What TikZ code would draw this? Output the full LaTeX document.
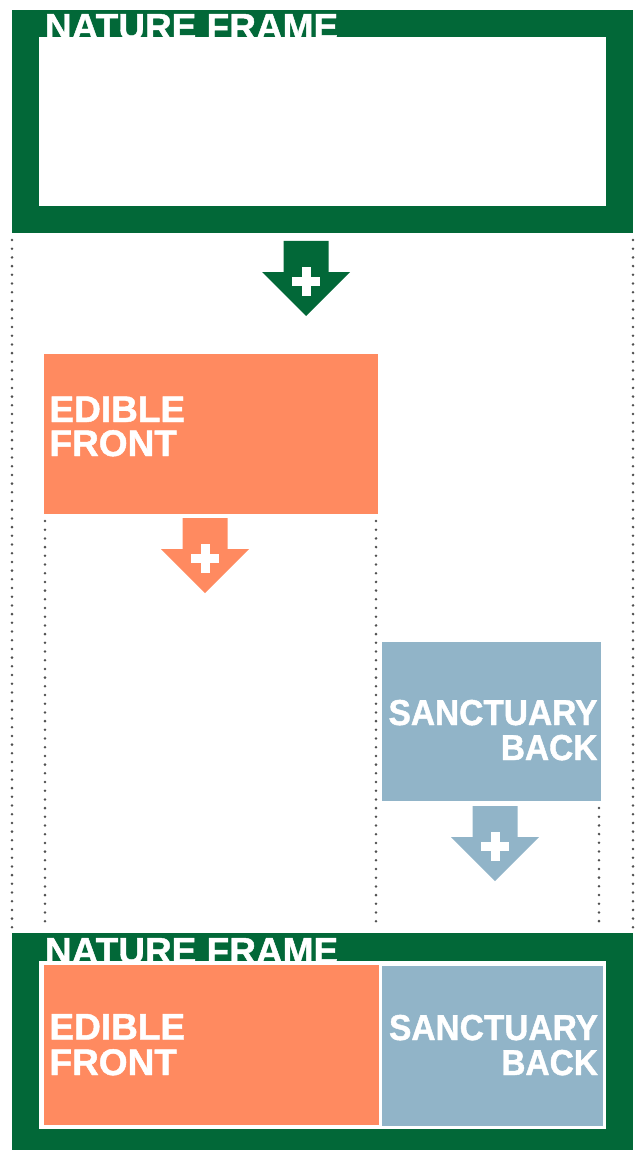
\documentclass[tikz,border=0pt]{standalone}
\usepackage{fontspec}
\setmainfont{Liberation Sans}
\newfontfamily\heavyfont{Liberation Sans Bold}[FakeBold=1.2]
\newfontfamily\narrowfont{Liberation Sans Bold}[FakeStretch=0.93,FakeBold=1.2]
\definecolor{natgreen}{RGB}{2,104,56}
\definecolor{edorange}{RGB}{255,138,96}
\definecolor{sanblue}{RGB}{145,180,200}
\definecolor{dotgray}{RGB}{80,80,80}
\tikzset{
  panel/.style={fill=#1, draw=none, inner sep=0pt, outer sep=0pt, anchor=north west},
  lbl/.style={text=white, inner sep=0pt, outer sep=0pt, font=\heavyfont\fontsize{37}{37}\selectfont},
  nlbl/.style={text=white, inner sep=0pt, outer sep=0pt, font=\narrowfont\fontsize{36}{36}\selectfont},
  guide/.style={draw=dotgray, line width=2.8pt, line cap=round, dash pattern=on 0pt off 8.7pt}
}
\newcommand\plusarrow[3]{%
  \fill[#3] (#1-22.5,#2) -- ++(45,0) -- ++(0,31) -- ++(21.5,0) -- (#1,#2+75)
    -- (#1-44,#2+31) -- (#1-22.5,#2+31) -- cycle;
  \fill[white] (#1-14,#2+35.5) rectangle ++(28,9);
  \fill[white] (#1-4.5,#2+25.5) rectangle ++(9,29);
}
\begin{document}
\begin{tikzpicture}[x=1pt,y=-1pt]
\useasboundingbox (0,0) rectangle (641,1150);

% top frame
\node[panel=natgreen, minimum width=621pt, minimum height=223pt] (top) at (12,10) {};
\node[lbl, anchor=base west] (ttitle) at (45,39.5) {NATURE FRAME};
\node[panel=white, minimum width=567pt, minimum height=169pt] (topin) at (39,37) {};

% first arrow
\plusarrow{306}{241}{natgreen}

% edible front
\node[panel=edorange, minimum width=334pt, minimum height=160pt] (ef) at (44,354) {};
\node[lbl, anchor=base west] (ef1) at (49.5,422) {EDIBLE};
\node[lbl, anchor=base west] (ef2) at (49.5,456) {FRONT};
\plusarrow{205}{518}{edorange}

% sanctuary back
\node[panel=sanblue, minimum width=219pt, minimum height=159pt] (sb) at (382,642) {};
\node[nlbl, anchor=base east] (sb1) at (597.5,725) {SANCTUARY};
\node[nlbl, anchor=base east] (sb2) at (597.5,760) {BACK};
\plusarrow{495}{806}{sanblue}

% bottom frame
\node[panel=natgreen, minimum width=621pt, minimum height=217pt] (bot) at (12,933) {};
\node[lbl, anchor=base west] (btitle) at (45,963.5) {NATURE FRAME};
\node[panel=white, minimum width=567pt, minimum height=168pt] (botin) at (39,961) {};
\node[panel=edorange, minimum width=335pt, minimum height=160pt] (bef) at (44,965) {};
\node[panel=sanblue, minimum width=221pt, minimum height=160pt] (bsb) at (382,966) {};
\node[lbl, anchor=base west] (bef1) at (49.5,1039.5) {EDIBLE};
\node[lbl, anchor=base west] (bef2) at (49.5,1075) {FRONT};
\node[nlbl, anchor=base east] (bsb1) at (598,1040) {SANCTUARY};
\node[nlbl, anchor=base east] (bsb2) at (598,1075) {BACK};

% dotted guides
\draw[guide] ([yshift=-7pt]top.south west) -- ([yshift=4pt]top.south west |- bot.north);
\draw[guide] ([yshift=-7pt]top.south east) -- ([yshift=4pt]top.south east |- bot.north);
\draw[guide] ([xshift=1pt,yshift=-7pt]ef.south west) -- ([xshift=1pt,yshift=4pt]ef.south west |- bot.north);
\draw[guide] ([xshift=-2pt,yshift=-7pt]ef.south east) -- ([xshift=-2pt,yshift=4pt]ef.south east |- bot.north);
\draw[guide] ([xshift=-2pt,yshift=-7pt]sb.south east) -- ([xshift=-2pt,yshift=4pt]sb.south east |- bot.north);
\end{tikzpicture}
\end{document}
